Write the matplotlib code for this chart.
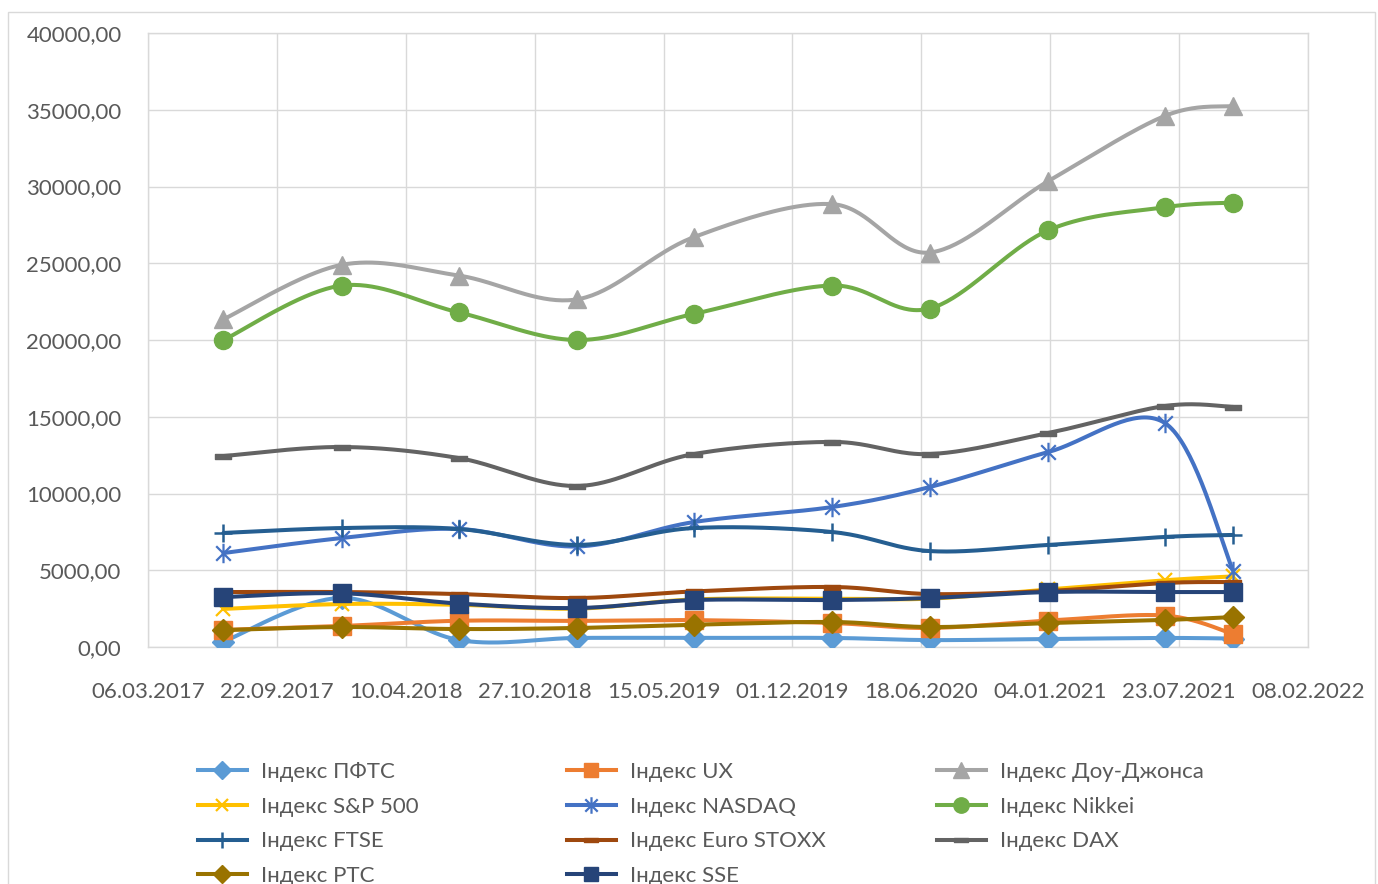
import numpy as np
import matplotlib
matplotlib.use("Agg")
import matplotlib.pyplot as plt
import matplotlib.dates as mdates
from matplotlib.lines import Line2D
from matplotlib.path import Path
from matplotlib.patches import Rectangle
from matplotlib.ticker import FuncFormatter, FixedLocator
import datetime as dt

plt.rcParams['font.family'] = ['Lato', 'DejaVu Sans']

# ---------------- data ----------------
dates = ['2017-07-01', '2018-01-01', '2018-07-01', '2019-01-01', '2019-07-01',
         '2020-02-01', '2020-07-01', '2021-01-01', '2021-07-01', '2021-10-15']

pfts   = [350, 3200, 460, 590, 590, 590, 450, 520, 590, 550]
ux     = [1110, 1370, 1710, 1700, 1750, 1560, 1240, 1720, 2050, 850]
dow    = [21350, 24900, 24200, 22650, 26700, 28850, 25700, 30350, 34600, 35250]
sp500  = [2480, 2800, 2750, 2500, 3100, 3150, 3150, 3750, 4350, 4600]
nasdaq = [6120, 7100, 7690, 6550, 8140, 9120, 10420, 12700, 14590, 4950]
nikkei = [20000, 23550, 21800, 20000, 21700, 23550, 22050, 27150, 28650, 28950]
ftse   = [7430, 7750, 7690, 6650, 7750, 7490, 6250, 6650, 7170, 7300]
euro   = [3580, 3580, 3450, 3190, 3620, 3910, 3450, 3650, 4170, 4230]
dax    = [12440, 13030, 12310, 10490, 12570, 13360, 12570, 13940, 15700, 15640]
rts    = [1100, 1300, 1170, 1240, 1450, 1630, 1300, 1560, 1760, 1950]
sse    = [3250, 3500, 2830, 2540, 3060, 3060, 3190, 3580, 3580, 3580]

labels = ['Індекс ПФТС', 'Індекс UX', 'Індекс Доу-Джонса', 'Індекс S&P 500',
          'Індекс NASDAQ', 'Індекс Nikkei', 'Індекс FTSE', 'Індекс Euro STOXX',
          'Індекс DAX', 'Індекс РТС', 'Індекс SSE']
series = [pfts, ux, dow, sp500, nasdaq, nikkei, ftse, euro, dax, rts, sse]

x_ticks = ['2017-03-06', '2017-09-22', '2018-04-10', '2018-10-27', '2019-05-15',
           '2019-12-01', '2020-06-18', '2021-01-04', '2021-07-23', '2022-02-08']

# ---------------- styles ----------------
colors = ['#5B9BD5', '#ED7D31', '#A5A5A5', '#FFC000', '#4472C4', '#70AD47',
          '#255E91', '#9E480E', '#636363', '#997300', '#264478']

star = Path([(0, -1), (0, 1), (-0.75, -0.75), (0.75, 0.75), (-0.75, 0.75), (0.75, -0.75)],
            [Path.MOVETO, Path.LINETO, Path.MOVETO, Path.LINETO, Path.MOVETO, Path.LINETO])
dash = Path([(-1, -0.3), (1, -0.3), (1, 0.3), (-1, 0.3), (-1, -0.3)],
            [Path.MOVETO, Path.LINETO, Path.LINETO, Path.LINETO, Path.CLOSEPOLY])

markers = [
    dict(marker='D', ms=11),
    dict(marker='s', ms=12.5),
    dict(marker='^', ms=13),
    dict(marker='x', ms=10, mew=1.6),
    dict(marker=star, ms=14, mew=1.6),
    dict(marker='o', ms=13),
    dict(marker='+', ms=13, mew=1.8),
    dict(marker=dash, ms=12),
    dict(marker=dash, ms=12),
    dict(marker='D', ms=11),
    dict(marker='s', ms=12.5),
]


def smooth(xs, ys, n=40):
    P = np.column_stack([xs, ys]).astype(float)
    out = []
    for i in range(len(P) - 1):
        p0 = P[i - 1] if i > 0 else P[i]
        p1 = P[i]
        p2 = P[i + 1]
        p3 = P[i + 2] if i + 2 < len(P) else P[i + 1]
        c1 = p1 + (p2 - p0) / 6.0
        c2 = p2 - (p3 - p1) / 6.0
        t = np.linspace(0, 1, n)[:, None]
        seg = (1 - t) ** 3 * p1 + 3 * (1 - t) ** 2 * t * c1 + 3 * (1 - t) * t ** 2 * c2 + t ** 3 * p2
        out.append(seg if i == 0 else seg[1:])
    out = np.vstack(out)
    return out[:, 0], out[:, 1]


W, H = 1378, 884
fig = plt.figure(figsize=(W / 100, H / 100), dpi=100)
ax = fig.add_axes([148 / W, 1 - 647 / H, 1160 / W, 614 / H])

xd = mdates.date2num([dt.date.fromisoformat(d) for d in dates])
xt = mdates.date2num([dt.date.fromisoformat(d) for d in x_ticks])

LW = 2.9
handles = []
for i, (vals, c, m) in enumerate(zip(series, colors, markers)):
    sx, sy = smooth(xd, vals)
    z = 3 + i * 0.01
    ax.plot(sx, sy, color=c, lw=LW, solid_capstyle='round', zorder=z)
    ax.plot(xd, vals, linestyle='none', color=c, mec=c, mfc=c, zorder=z, **m)
    hm = dict(m)
    hm['ms'] = m['ms'] * 0.85
    handles.append(Line2D([], [], color=c, lw=LW, mec=c, mfc=c, **hm))

ax.set_xlim(xt[0], xt[-1])
ax.set_ylim(0, 40000)
ax.xaxis.set_major_locator(FixedLocator(xt))
ax.xaxis.set_major_formatter(mdates.DateFormatter('%d.%m.%Y'))
ax.yaxis.set_major_locator(FixedLocator(np.arange(0, 40001, 5000)))
ax.yaxis.set_major_formatter(FuncFormatter(lambda v, p: f"{v:.2f}".replace('.', ',')))
ax.grid(True, color='#D9D9D9', lw=1.0, zorder=0)
ax.set_axisbelow(True)
for s in ax.spines.values():
    s.set_color('#D9D9D9')
    s.set_linewidth(1.0)
ax.tick_params(axis='both', length=0, labelsize=16, colors='#595959')
ax.tick_params(axis='x', pad=25)
ax.tick_params(axis='y', pad=19)

# chart area border
fig.patches.append(Rectangle((8 / W, -0.05), 1367 / W, 1 - 12 / H + 0.05,
                             transform=fig.transFigure, fill=False,
                             edgecolor='#D9D9D9', lw=1.0))

# legend: three columns of equal width, row-major order like the original
cols_x = [198, 567, 937]
for ci in range(3):
    idx = list(range(ci, len(handles), 3))
    fig.legend([handles[k] for k in idx], [labels[k] for k in idx],
               loc='upper left', bbox_to_anchor=(cols_x[ci] / W, 1 - 762 / H),
               frameon=False, fontsize=16, borderpad=0, borderaxespad=0,
               handlelength=2.2, handletextpad=0.65, labelspacing=0.66,
               labelcolor='#595959')

fig.savefig('out.png', dpi=100)
